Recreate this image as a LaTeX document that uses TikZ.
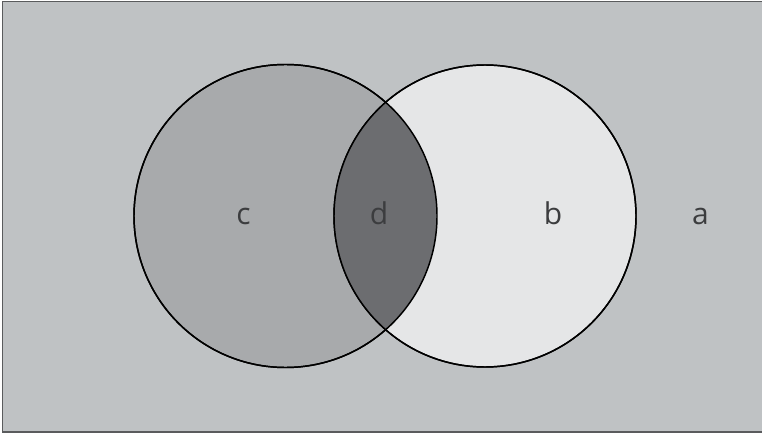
\documentclass[tikz,border=0pt]{standalone}
\usepackage{fontspec}
\setmainfont{Open Sans}
\definecolor{bgGray}{HTML}{BFC2C4}
\definecolor{leftGray}{HTML}{A8AAAC}
\definecolor{rightGray}{HTML}{E5E6E7}
\definecolor{midGray}{HTML}{6C6D70}
\definecolor{frameGray}{HTML}{5A5B5D}
\definecolor{txtGray}{HTML}{3C3D3F}
\tikzset{every picture/.style={line width=1.1pt}}
\tikzset{lbl/.style={text=txtGray, anchor=base, font=\fontsize{22.5}{27}\selectfont}}
\begin{document}
\begin{tikzpicture}[x=0.75pt,y=0.75pt,yscale=-1,xscale=1]
	\useasboundingbox (0,0) rectangle (762,434);
	\clip (0,0) rectangle (762,434);

	%Shape: Rectangle [id:frame]
	\draw [color=frameGray, fill=bgGray, line width=1.2pt] (2.5,1.5) rectangle (775,432);

	%Shape: Circle [id:left]
	\draw [fill=leftGray] (285.5,216) circle [radius=151.5];
	%Shape: Circle [id:right]
	\draw [fill=rightGray] (485,216) circle [radius=151];
	%Shape: Lens [id:both]
	\begin{scope}
		\clip (285.5,216) circle [radius=151.5];
		\fill [midGray] (485,216) circle [radius=151];
	\end{scope}
	\draw (285.5,216) circle [radius=151.5];
	\draw (485,216) circle [radius=151];

	% Text Node
	\draw (243.5,225) node [lbl] (c) {c};
	% Text Node
	\draw (379,225) node [lbl] (d) {d};
	% Text Node
	\draw (553,225) node [lbl] (b) {b};
	% Text Node
	\draw (700.5,225) node [lbl] (a) {a};

\end{tikzpicture}
\end{document}
